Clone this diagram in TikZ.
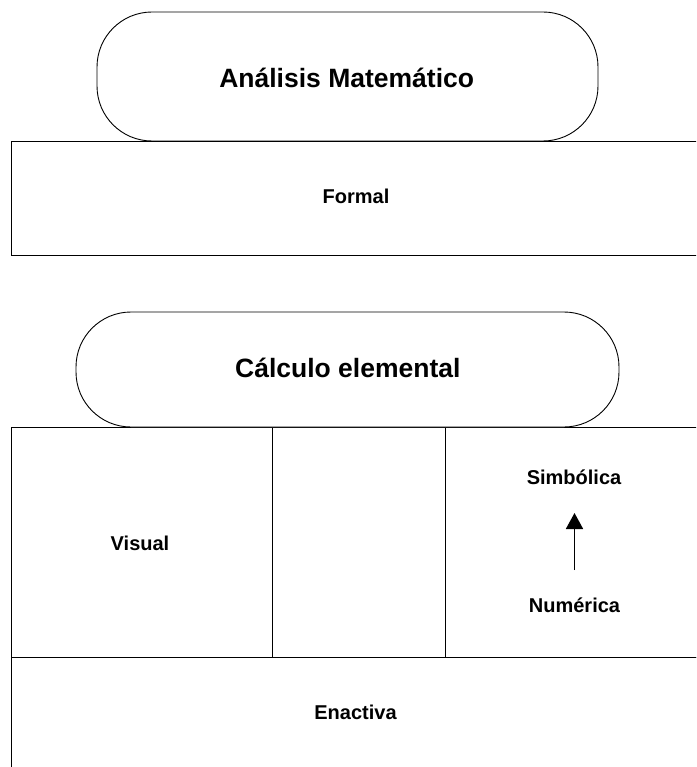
\documentclass[tikz,border=0pt]{standalone}
\usepackage{fontspec}
\setmainfont{Liberation Sans}
\usetikzlibrary{arrows.meta}
\begin{document}
\begin{tikzpicture}[x=1pt, y=-1pt,
  frame/.style={draw=black, line width=0.9pt, inner sep=0pt},
  pill/.style={frame, fill=white, rounded corners=55pt},
  titletext/.style={font=\bfseries\fontsize{26.5}{30}\selectfont,
    inner sep=0pt, text height=19pt, text depth=0pt},
  celltext/.style={font=\bfseries\fontsize{20}{24}\selectfont,
    inner sep=0pt, text height=14.3pt, text depth=0pt},
  uparrow/.style={line width=1.8pt, -{Triangle[width=17pt,length=16pt]}}]
  \useasboundingbox (0,0) rectangle (696,767);
  \clip (0,0) rectangle (696,767);

  % upper block: formal level
  \node[frame, minimum width=689pt, minimum height=114pt] (formalbox) at (355.5,198) {};
  \node[celltext] (formal) at (356,196.5) {Formal};
  \node[pill, minimum width=501pt, minimum height=129pt] (analisis) at (347.5,76.5) {};
  \node[titletext] (analisistxt) at (346.7,78) {Análisis Matemático};

  % lower block: three columns over the enactive base
  \node[frame, minimum width=261pt, minimum height=230pt] (visualcell) at (141.5,542) {};
  \node[frame, minimum width=173.5pt, minimum height=230pt] (midcell) at (358.75,542) {};
  \node[frame, minimum width=254.5pt, minimum height=230pt] (rightcell) at (572.75,542) {};
  \node[frame, minimum width=689pt, minimum height=123pt] (enactbox) at (355.5,718.5) {};
  \node[pill, minimum width=543pt, minimum height=115pt] (calculo) at (347.5,369.5) {};
  \node[titletext] (calculotxt) at (347.8,368) {Cálculo elemental};

  \node[celltext] (visual) at (140,543) {Visual};
  \node[celltext] (simbolica) at (574,477) {Simbólica};
  \node[celltext] (numerica) at (574.5,605) {Numérica};
  \node[celltext] (enactiva) at (355.5,712.5) {Enactiva};

  \draw[uparrow, shorten <=35pt, shorten >=36pt] (numerica.center) -- (numerica.center |- simbolica.center);
\end{tikzpicture}
\end{document}
